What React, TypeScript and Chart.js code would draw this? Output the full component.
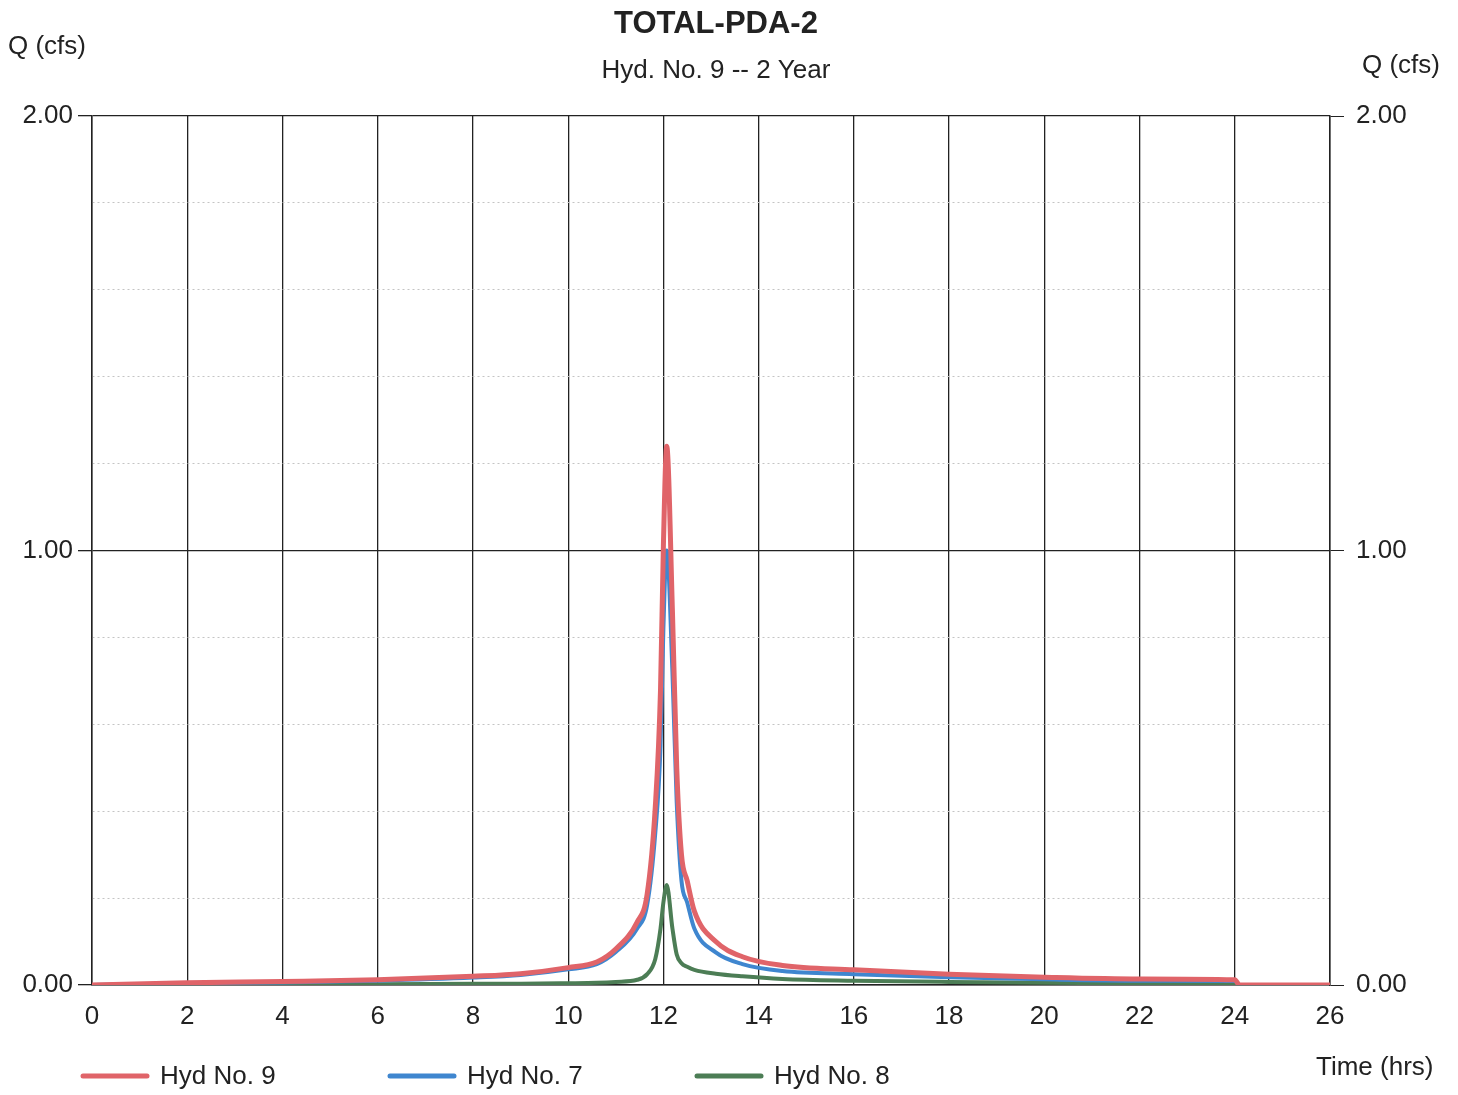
import React, { useEffect, useRef } from "react";
import { Chart, registerables } from "chart.js";

Chart.register(...registerables);

// Time (hrs)
const times = [0, 2, 4, 6, 8, 9, 10, 10.6, 11, 11.45, 11.66, 11.83, 11.94, 12.0, 12.07, 12.19, 12.28, 12.38, 12.5, 12.65, 13.1, 13.66, 14.5, 16, 18, 20, 22, 24, 24.1, 26];
// Q (cfs)
const hyd9 = [0, 0.005, 0.008, 0.012, 0.02, 0.026, 0.04, 0.053, 0.083, 0.145, 0.21, 0.41, 0.68, 1.01, 1.24, 0.86, 0.5, 0.3, 0.24, 0.17, 0.1, 0.065, 0.045, 0.035, 0.025, 0.018, 0.014, 0.012, 0, 0];
const hyd7 = [0, 0.004, 0.006, 0.01, 0.017, 0.023, 0.036, 0.048, 0.076, 0.13, 0.185, 0.35, 0.55, 0.82, 1.0, 0.72, 0.42, 0.24, 0.19, 0.13, 0.075, 0.048, 0.032, 0.025, 0.018, 0.013, 0.01, 0.009, 0, 0];
const hyd8 = [0, 0.001, 0.002, 0.002, 0.003, 0.003, 0.004, 0.005, 0.007, 0.012, 0.025, 0.06, 0.13, 0.19, 0.23, 0.13, 0.07, 0.05, 0.042, 0.035, 0.026, 0.02, 0.014, 0.01, 0.007, 0.005, 0.004, 0.003, 0, 0];

const seriesNames = ["Hyd No. 9", "Hyd No. 7", "Hyd No. 8"];
const seriesColors = ["#e06469", "#3f86cf", "#4c7d55"];

const titleText = "TOTAL-PDA-2";
const subtitleText = "Hyd. No. 9 -- 2 Year";
const yAxisTitle = "Q (cfs)";
const xAxisTitle = "Time (hrs)";

const FONT = "'Liberation Sans', Arial, Helvetica, sans-serif";
const INK = "#222222";

const isMajor = (v: number) => Math.abs(v - Math.round(v)) < 1e-6;

const overlay = {
  id: "overlay",
  afterDraw(chart: any) {
    const ctx = chart.ctx as CanvasRenderingContext2D;
    ctx.save();
    ctx.fillStyle = INK;
    ctx.textBaseline = "middle";
    ctx.textAlign = "center";
    ctx.font = `bold 31px ${FONT}`;
    ctx.fillText(titleText, 716, 24);
    ctx.font = `26px ${FONT}`;
    ctx.fillText(subtitleText, 716, 71);
    ctx.textAlign = "left";
    ctx.fillText(yAxisTitle, 8, 47);
    ctx.fillText(yAxisTitle, 1362, 66);
    ctx.fillText(xAxisTitle, 1316, 1068);

    // legend
    const legendX = [83, 390, 697];
    const legendY = 1076;
    seriesNames.forEach((name, i) => {
      ctx.strokeStyle = seriesColors[i];
      ctx.lineWidth = 5;
      ctx.lineCap = "round";
      ctx.beginPath();
      ctx.moveTo(legendX[i], legendY);
      ctx.lineTo(legendX[i] + 64, legendY);
      ctx.stroke();
      ctx.fillStyle = INK;
      ctx.fillText(name, legendX[i] + 77, legendY + 1);
    });
    ctx.restore();
  },
};

export default function App() {
  const ref = useRef<HTMLCanvasElement | null>(null);

  useEffect(() => {
    if (!ref.current) return;
    const mk = (vals: number[]) => times.map((t, i) => ({ x: t, y: vals[i] }));
    const chart = new Chart(ref.current, {
      type: "line",
      data: {
        datasets: [
          { label: seriesNames[2], data: mk(hyd8), borderColor: seriesColors[2], borderWidth: 4, order: 3 },
          { label: seriesNames[1], data: mk(hyd7), borderColor: seriesColors[1], borderWidth: 4, order: 2 },
          { label: seriesNames[0], data: mk(hyd9), borderColor: seriesColors[0], borderWidth: 5, order: 1 },
        ].map((d) => ({
          ...d,
          pointRadius: 0,
          fill: false,
          cubicInterpolationMode: "monotone" as const,
          yAxisID: "y",
        })),
      },
      options: {
        responsive: false,
        animation: false,
        events: [],
        layout: { padding: { top: 116, left: 0, right: 0, bottom: 0 } },
        plugins: {
          legend: { display: false },
          title: { display: false },
          tooltip: { enabled: false },
        },
        scales: {
          x: {
            type: "linear",
            min: 0,
            max: 26,
            ticks: {
              stepSize: 2,
              padding: 16,
              color: INK,
              font: { family: FONT, size: 26 },
              maxRotation: 0,
            },
            grid: { color: INK, lineWidth: 1.3, drawTicks: false, tickLength: 0 },
            border: { color: INK, width: 1.5 },
            afterFit: (s: any) => {
              s.height = 110;
            },
          },
          y: {
            type: "linear",
            position: "left",
            min: 0,
            max: 2,
            ticks: {
              stepSize: 0.2,
              padding: 5,
              color: INK,
              font: { family: FONT, size: 26 },
              callback: (v: any) => (isMajor(Number(v)) ? Number(v).toFixed(2) : ""),
            },
            grid: {
              color: (c: any) => (c.tick && isMajor(c.tick.value) ? INK : "#c4c4c4"),
              lineWidth: (c: any) => (c.tick && isMajor(c.tick.value) ? 1.3 : 1),
              tickColor: (c: any) => (c.tick && isMajor(c.tick.value) ? INK : "rgba(0,0,0,0)"),
              tickLength: 14,
            },
            border: {
              color: INK,
              width: 1.5,
              dash: (c: any) => (c.tick && !isMajor(c.tick.value) ? [2, 3] : []),
            },
            afterFit: (s: any) => {
              s.width = 92;
            },
          },
          y1: {
            type: "linear",
            position: "right",
            min: 0,
            max: 2,
            ticks: {
              stepSize: 0.2,
              padding: 12,
              color: INK,
              font: { family: FONT, size: 26 },
              callback: (v: any) => (isMajor(Number(v)) ? Number(v).toFixed(2) : ""),
            },
            grid: {
              drawOnChartArea: false,
              tickColor: (c: any) => (c.tick && isMajor(c.tick.value) ? INK : "rgba(0,0,0,0)"),
              tickLength: 14,
            },
            border: { color: INK, width: 1.5 },
            afterFit: (s: any) => {
              s.width = 128;
            },
          },
        },
      },
      plugins: [overlay],
    });
    return () => chart.destroy();
  }, []);

  return (
    <div style={{ position: "fixed", left: 0, top: 0, width: 1458, height: 1095, background: "#fff" }}>
      <canvas ref={ref} width={1458} height={1095} style={{ display: "block" }} />
    </div>
  );
}
